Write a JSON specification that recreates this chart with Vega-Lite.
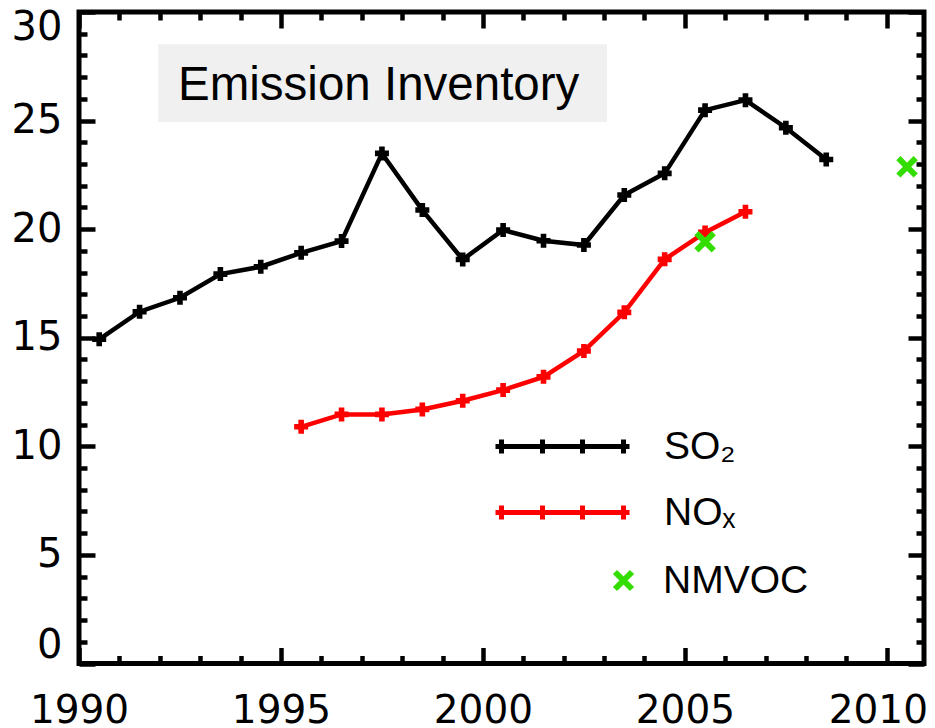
{
  "$schema": "https://vega.github.io/schema/vega-lite/v6.json",
  "width": 845,
  "height": 651.5,
  "autosize": {"type": "none"},
  "padding": {"left": 79, "top": 12, "right": 11, "bottom": 64},
  "background": "white",
  "config": {"view": {"stroke": "black", "strokeWidth": 5}, "font": "Liberation Sans"},
  "data": {
    "values": [
      {"year": 1990.5, "series": "SO₂", "value": 14.93},
      {"year": 1991.5, "series": "SO₂", "value": 16.2},
      {"year": 1992.5, "series": "SO₂", "value": 16.84},
      {"year": 1993.5, "series": "SO₂", "value": 17.93},
      {"year": 1994.5, "series": "SO₂", "value": 18.27},
      {"year": 1995.5, "series": "SO₂", "value": 18.91},
      {"year": 1996.5, "series": "SO₂", "value": 19.45},
      {"year": 1997.5, "series": "SO₂", "value": 23.49},
      {"year": 1998.5, "series": "SO₂", "value": 20.88},
      {"year": 1999.5, "series": "SO₂", "value": 18.6},
      {"year": 2000.5, "series": "SO₂", "value": 19.96},
      {"year": 2001.5, "series": "SO₂", "value": 19.47},
      {"year": 2002.5, "series": "SO₂", "value": 19.27},
      {"year": 2003.5, "series": "SO₂", "value": 21.57},
      {"year": 2004.5, "series": "SO₂", "value": 22.57},
      {"year": 2005.5, "series": "SO₂", "value": 25.48},
      {"year": 2006.5, "series": "SO₂", "value": 25.94},
      {"year": 2007.5, "series": "SO₂", "value": 24.67},
      {"year": 2008.5, "series": "SO₂", "value": 23.21},
      {"year": 1995.5, "series": "NOₓ", "value": 10.9},
      {"year": 1996.5, "series": "NOₓ", "value": 11.47},
      {"year": 1997.5, "series": "NOₓ", "value": 11.47},
      {"year": 1998.5, "series": "NOₓ", "value": 11.7},
      {"year": 1999.5, "series": "NOₓ", "value": 12.1},
      {"year": 2000.5, "series": "NOₓ", "value": 12.59},
      {"year": 2001.5, "series": "NOₓ", "value": 13.2},
      {"year": 2002.5, "series": "NOₓ", "value": 14.39},
      {"year": 2003.5, "series": "NOₓ", "value": 16.17},
      {"year": 2004.5, "series": "NOₓ", "value": 18.61},
      {"year": 2005.5, "series": "NOₓ", "value": 19.85},
      {"year": 2006.5, "series": "NOₓ", "value": 20.8},
      {"year": 2005.5, "series": "NMVOC", "value": 19.42},
      {"year": 2010.5, "series": "NMVOC", "value": 22.87}
    ]
  },
  "resolve": {"axis": {"x": "independent", "y": "independent"}},
  "layer": [
    {
      "data": {"values": [{"label": "Emission Inventory"}]},
      "mark": {"type": "rect", "fill": "#f0f0f0"},
      "encoding": {
        "x": {"datum": 1991.96, "type": "quantitative", "axis": null, "scale": {"domain": [1990, 2010.92], "nice": false, "zero": false}},
        "x2": {"datum": 2003.07},
        "y": {"datum": 28.52, "type": "quantitative", "axis": null, "scale": {"domain": [0, 30], "nice": false, "zero": false}},
        "y2": {"datum": 24.93}
      }
    },
    {
      "data": {"values": [{"label": "Emission Inventory"}]},
      "mark": {"type": "text", "font": "Liberation Sans", "fontSize": 47.5, "align": "center", "baseline": "alphabetic", "color": "black"},
      "encoding": {
        "text": {"field": "label"},
        "x": {"datum": 1997.42, "type": "quantitative", "axis": null, "scale": {"domain": [1990, 2010.92], "nice": false, "zero": false}},
        "y": {"datum": 25.94, "type": "quantitative", "axis": null, "scale": {"domain": [0, 30], "nice": false, "zero": false}}
      }
    },
    {
      "transform": [{"filter": "datum.series !== 'NMVOC'"}],
      "mark": {"type": "line", "strokeWidth": 4.5},
      "encoding": {
        "x": {
          "field": "year", "type": "quantitative",
          "scale": {"domain": [1990, 2010.92], "nice": false, "zero": false},
          "axis": {
            "orient": "bottom", "title": null, "domain": false, "grid": false,
            "values": [1990,1991,1992,1993,1994,1995,1996,1997,1998,1999,2000,2001,2002,2003,2004,2005,2006,2007,2008,2009,2010],
            "format": "d",
            "tickColor": "black", "tickWidth": 4.5,
            "tickSize": {"condition": {"test": "datum.value % 5 === 0", "value": -16}, "value": -8},
            "labelExpr": "datum.value % 5 === 0 ? datum.label : ''",
            "labelFont": "DejaVu Sans", "labelFontSize": 39, "labelColor": "black", "labelPadding": 44,
            "labelOverlap": false, "labelFlush": false, "labelBound": false,
            "labelOffset": {"condition": {"test": "datum.value === 2010", "value": -9}, "value": 0}
          }
        },
        "y": {
          "field": "value", "type": "quantitative",
          "scale": {"domain": [0, 30], "nice": false, "zero": false},
          "axis": {
            "orient": "left", "title": null, "domain": false, "grid": false,
            "values": [0,1,2,3,4,5,6,7,8,9,10,11,12,13,14,15,16,17,18,19,20,21,22,23,24,25,26,27,28,29,30],
            "format": "d",
            "tickColor": "black", "tickWidth": 4.5,
            "tickSize": {"condition": {"test": "datum.value % 5 === 0", "value": -16}, "value": -8},
            "labelExpr": "datum.value % 5 === 0 ? datum.label : ''",
            "labelFont": "DejaVu Sans", "labelFontSize": 40, "labelColor": "black", "labelPadding": 33,
            "labelOverlap": false, "labelFlush": false, "labelBound": false,
            "labelOffset": {"condition": [{"test": "datum.value === 0", "value": -18}, {"test": "datum.value === 30", "value": 15}], "value": 0}
          }
        },
        "color": {
          "field": "series", "type": "nominal",
          "scale": {"domain": ["SO₂", "NOₓ"], "range": ["#000000", "#ff0000"]},
          "legend": {
            "orient": "none", "legendX": 407, "legendY": 415, "title": null, "padding": 0,
            "symbolSize": 400, "symbolOffset": 57,
            "symbolType": "M-6.7,0H6.7M-6.1,-0.7V0.7M-2,-0.7V0.7M2,-0.7V0.7M6.1,-0.7V0.7",
            "symbolStrokeWidth": 5,
            "labelFont": "Liberation Sans", "labelFontSize": 39, "labelColor": "black", "labelOffset": 82, "labelLimit": 300,
            "rowPadding": 26
          }
        }
      }
    },
    {
      "transform": [{"filter": "datum.series !== 'NMVOC'"}],
      "mark": {"type": "point", "shape": "cross", "filled": true, "size": 196, "opacity": 1},
      "encoding": {
        "x": {
          "field": "year", "type": "quantitative",
          "scale": {"domain": [1990, 2010.92], "nice": false, "zero": false},
          "axis": {
            "orient": "top", "title": null, "domain": false, "grid": false, "labels": false,
            "values": [1990,1991,1992,1993,1994,1995,1996,1997,1998,1999,2000,2001,2002,2003,2004,2005,2006,2007,2008,2009,2010],
            "tickColor": "black", "tickWidth": 4.5,
            "tickSize": {"condition": {"test": "datum.value % 5 === 0", "value": -16}, "value": -8}
          }
        },
        "y": {
          "field": "value", "type": "quantitative",
          "scale": {"domain": [0, 30], "nice": false, "zero": false},
          "axis": {
            "orient": "right", "title": null, "domain": false, "grid": false, "labels": false,
            "values": [0,1,2,3,4,5,6,7,8,9,10,11,12,13,14,15,16,17,18,19,20,21,22,23,24,25,26,27,28,29,30],
            "tickColor": "black", "tickWidth": 4.5,
            "tickSize": {"condition": {"test": "datum.value % 5 === 0", "value": -16}, "value": -8}
          }
        },
        "color": {"field": "series", "type": "nominal", "legend": null, "scale": {"domain": ["SO₂", "NOₓ"], "range": ["#000000", "#ff0000"]}}
      }
    },
    {
      "transform": [{"filter": "datum.series === 'NMVOC'"}],
      "mark": {"type": "point", "filled": false, "strokeWidth": 6, "size": 300, "opacity": 1, "color": "#33dd00"},
      "encoding": {
        "x": {"field": "year", "type": "quantitative", "axis": null, "scale": {"domain": [1990, 2010.92], "nice": false, "zero": false}},
        "y": {"field": "value", "type": "quantitative", "axis": null, "scale": {"domain": [0, 30], "nice": false, "zero": false}},
        "shape": {
          "field": "series", "type": "nominal",
          "scale": {"domain": ["NMVOC"], "range": ["M-1,-1L1,1M-1,1L1,-1"]},
          "legend": {
            "orient": "none", "legendX": 407, "legendY": 549, "title": null, "padding": 0,
            "symbolSize": 289, "symbolOffset": 118, "symbolStrokeWidth": 6, "symbolStrokeColor": "#33dd00",
            "labelFont": "Liberation Sans", "labelFontSize": 39, "labelColor": "black", "labelOffset": 20, "labelLimit": 300
          }
        }
      }
    }
  ]
}
